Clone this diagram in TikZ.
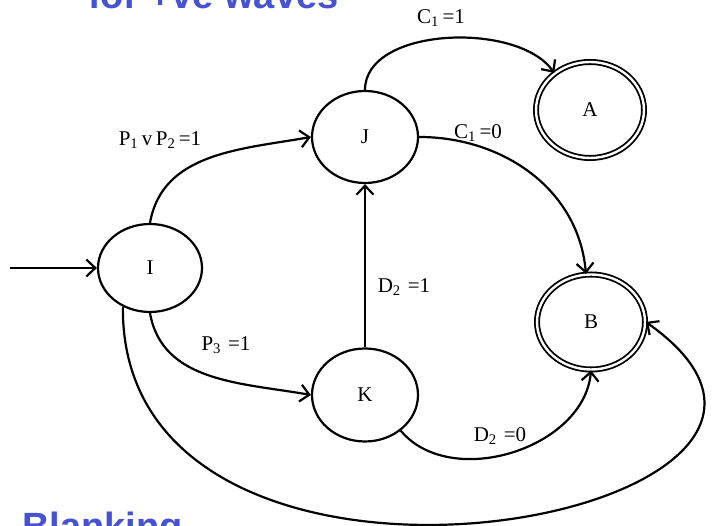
\documentclass[tikz,border=0pt]{standalone}
\usepackage{fontspec}
\setmainfont{Liberation Serif}
\setsansfont{Liberation Sans}
\usetikzlibrary{arrows.meta,shapes.geometric}
\definecolor{slideblue}{RGB}{70,82,210}

\begin{document}
\begin{tikzpicture}[x=1pt,y=1pt,
    state/.style={draw, ellipse, line width=2.2pt, inner sep=0pt, font=\fontsize{21}{23}\selectfont},
    final/.style={state, double, double distance=2.4pt, line width=1.8pt},
    trans/.style={line width=2.2pt, -{Straight Barb[length=9pt,width=17pt,line width=2.2pt]}},
    cond/.style={font=\fontsize{21}{23}\selectfont, inner sep=1pt},
    slidetitle/.style={font=\fontsize{38}{40}\selectfont\bfseries\sffamily, text=slideblue, anchor=base west, inner sep=0pt}]
\useasboundingbox (0,0) rectangle (712,526);
\clip (0,0) rectangle (712,526);
\node[slidetitle] (toptitle) at (88,517) {for +ve waves};
\node[slidetitle] (bottitle) at (22,-14) {Blanking};
\node[state, minimum width=104pt, minimum height=88pt] (I) at (150,258) {I};
\node[state, minimum width=106pt, minimum height=92pt] (J) at (365,389) {J};
\node[state, minimum width=106pt, minimum height=93pt] (K) at (365,131) {K};
\node[final, minimum width=108pt, minimum height=96pt] (A) at (590,416) {A};
\node[final, minimum width=108pt, minimum height=95pt] (B) at (591,204) {B};
\node[cond] (c1one) at (441,508) {C\textsubscript{1}\,=1};
\node[cond] (ponetwo) at (160,386) {P\textsubscript{1}\,v\,P\textsubscript{2}\,=1};
\node[cond] (c1zero) at (478,393) {C\textsubscript{1}\,=0};
\node[cond] (d2one) at (404,239) {D\textsubscript{2}\,\,=1};
\node[cond] (pthree) at (226,181) {P\textsubscript{3}\,\,=1};
\node[cond] (d2zero) at (500,90) {D\textsubscript{2}\,\,=0};
\coordinate (entry) at (10,258);
\draw[trans] (entry) -- (I.west);
\draw[trans] (I.north) to[out=80,in=190] (J.west);
\draw[trans] (I.south) to[out=-80,in=170] (K.west);
\draw[trans] (J.north) to[out=90,in=125,looseness=0.85] (A.134);
\draw[trans] (J.east) to[out=0,in=95] (B.96);
\draw[trans] (K.north) -- (J.south);
\draw[trans] (K.-45) to[out=-50,in=-95] (B.south);
\draw[trans] (I.-125) .. controls (120,-140) and (920,10) .. (B.east);
\end{tikzpicture}
\end{document}
